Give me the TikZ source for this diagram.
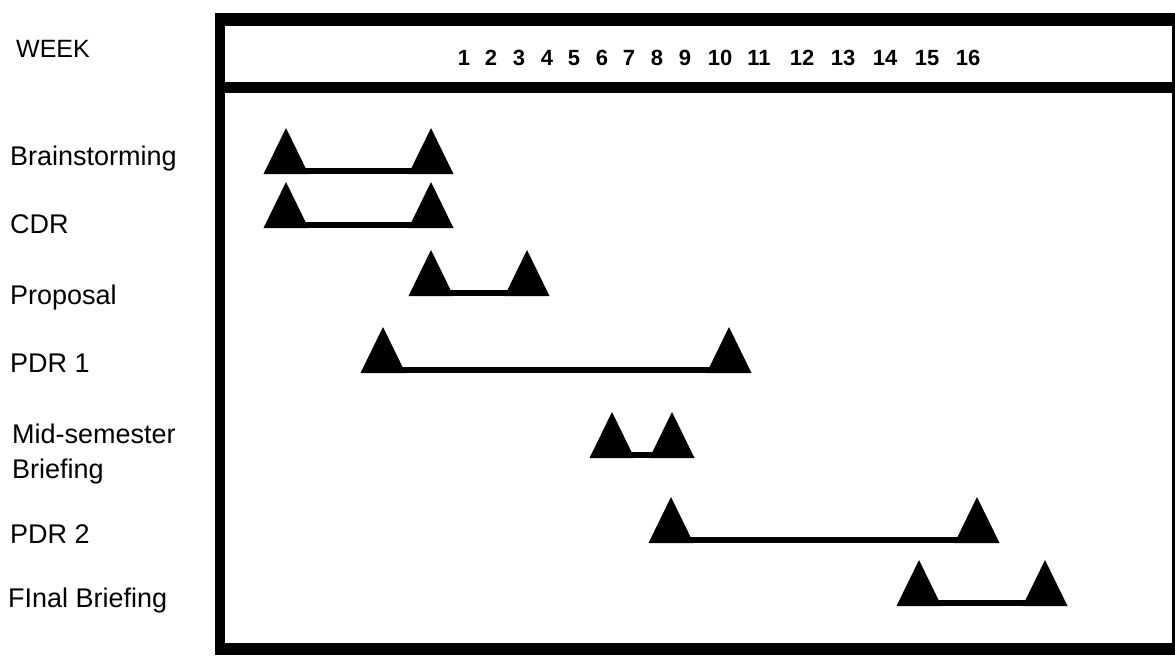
\documentclass[tikz,border=0pt]{standalone}
\usepackage{fontspec}
\setmainfont{Liberation Sans}

\begin{document}
\begin{tikzpicture}[x=1pt, y=-1pt,
    rowlabel/.style={anchor=base west, inner sep=0pt, font=\fontsize{27}{30}\selectfont},
    weeknum/.style={anchor=base, inner sep=0pt, font=\fontsize{22}{24}\selectfont\bfseries},
    span/.style={line width=6pt},
    milestone/.pic={\fill (-22.5,3) -- (0,-43) -- (22.5,3) -- cycle;}]

    \useasboundingbox (0,0) rectangle (1175,661);

    % 1. Frame of the chart
    \coordinate (TL) at (215,19.5);
    \coordinate (TR) at (1175,19.5);
    \coordinate (HL) at (215,87.5);
    \coordinate (HR) at (1175,87.5);
    \coordinate (BL) at (215,649);
    \coordinate (BR) at (1175,649);

    \draw[line width=13pt] (TL) -- (TR);
    \draw[line width=11pt] (HL) -- (HR);
    \draw[line width=12pt] (BL) -- (BR);
    \draw[line width=10pt] (220,13) -- (220,655);
    \draw[line width=3pt] (1173.5,13) -- (1173.5,655);

    % 2. Header: week numbers
    \node[rowlabel, font=\fontsize{25}{28}\selectfont] (week) at (16,58) {WEEK};
    \foreach \w/\x in {1/464, 2/491, 3/519, 4/547, 5/574, 6/602, 7/629, 8/657, 9/685,
                       10/720, 11/759, 12/802, 13/843, 14/885, 15/927, 16/968}
        \node[weeknum] (wk\w) at (\x,66) {\w};

    % 3. Row labels
    \node[rowlabel] (brain) at (10,165) {Brainstorming};
    \node[rowlabel] (cdr)   at (10,233) {CDR};
    \node[rowlabel] (prop)  at (10,304) {Proposal};
    \node[rowlabel] (pdrA)  at (10,372) {PDR 1};
    \node[rowlabel] (mid)   at (12,443) {Mid-semester};
    \node[rowlabel] (midB)  at (12,478) {Briefing};
    \node[rowlabel] (pdrB)  at (10,543) {PDR 2};
    \node[rowlabel] (final) at (8,607)  {FInal Briefing};

    % 4. Milestones: start and end triangles joined by a bar
    \foreach \r/\a/\b/\y in {brain/286/431/171, cdr/286/431/225, prop/431/527/293,
                             pdrA/383/729/370, mid/612/672/455, pdrB/671/977/540,
                             final/919/1045/603} {
        \coordinate (\r-s) at (\a,\y);
        \coordinate (\r-e) at (\b,\y);
        \draw[span] (\r-s) -- (\r-e);
        \pic at (\r-s) {milestone};
        \pic at (\r-e) {milestone};
    }

\end{tikzpicture}
\end{document}
